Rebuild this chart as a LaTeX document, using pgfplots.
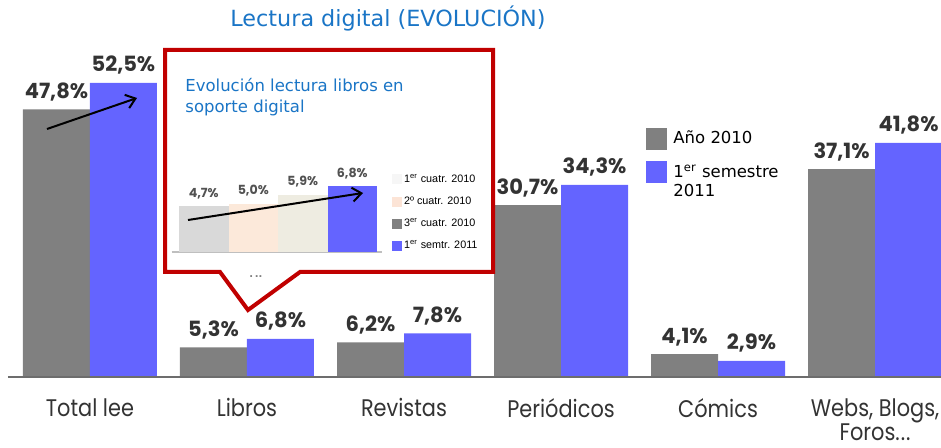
\documentclass[border=0pt]{standalone}
\usepackage{pgfplots}
\pgfplotsset{compat=1.18}
\usetikzlibrary{arrows.meta}
\usepackage{fontspec}
\setmainfont{DejaVu Sans}
\newfontfamily\catfont[FakeStretch=0.87]{Poppins}
\newfontfamily\valfont{Poppins}
\newfontfamily\arialfont{Liberation Sans}
\definecolor{ggray}{HTML}{808080}
\definecolor{bblue}{HTML}{6464FF}
\definecolor{ttl}{HTML}{1A75C6}
\definecolor{cred}{HTML}{C00000}
\definecolor{lab}{HTML}{333333}
\definecolor{inA}{HTML}{D9D9D9}
\definecolor{inB}{HTML}{FCE9DA}
\definecolor{inC}{HTML}{EEECE1}
\definecolor{lgA}{HTML}{F6F6F6}
\definecolor{lgB}{HTML}{FCE4D6}
\newcommand{\dotsx}{.\kern0.5pt.\kern0.5pt.}
\begin{document}
\begin{tikzpicture}
\useasboundingbox (0pt,0pt) rectangle (470.5pt,-224pt);
% ---------------- main chart ----------------
\begin{axis}[
  at={(4pt,-188.5pt)}, anchor=south west, scale only axis,
  width=466.5pt, height=168pt,
  xmin=-0.522, xmax=5.42, ymin=0, ymax=60,
  ybar=0pt, bar width=33.5pt,
  axis line style={draw=none}, ytick=\empty,
  xtick={0,1,2,3,4,5}, major tick length=0pt,
  xticklabels={Total lee, Libros, Revistas, Periódicos, Cómics, {Webs, Blogs,\\Foros\dotsx}},
  xticklabel style={font=\catfont\fontsize{12}{12}\selectfont, text=lab, align=center, anchor=north, inner sep=0pt, yshift=-10.5pt},
  clip=false,
  /pgf/number format/assume math mode=true,
  nodes near coords={\pgfmathprintnumber[fixed,precision=1,fixed zerofill,use comma,assume math mode=true]{\pgfplotspointmeta}\%},
  every node near coord/.append style={font=\valfont\bfseries\fontsize{10.5}{12}\selectfont, text=lab, anchor=base, yshift=5.5pt},
  legend style={at={(axis description cs:0.6774,0.755)}, anchor=north west, draw=none, fill=none,
     font=\fontsize{8.25}{9.5}\selectfont, row sep=5.75pt, column sep=3pt,
     nodes={inner sep=0pt, align=left}},
  legend cell align=left,
]
\addplot[fill=ggray, draw=none,
  legend image code/.code={\fill[ggray] (0pt,-5.5pt) rectangle (10.5pt,5.5pt);}]
  coordinates {(0,47.8) (1,5.3) (2,6.2) (3,30.7) (4,4.1) (5,37.1)};
\addlegendentry{Año 2010}
\addplot[fill=bblue, draw=none,
  legend image code/.code={\fill[bblue] (0pt,-0.5pt) rectangle (10.5pt,10.5pt);}]
  coordinates {(0,52.5) (1,6.8) (2,7.8) (3,34.3) (4,2.9) (5,41.8)};
\addlegendentry{1\textsuperscript{er} semestre\\2011}
\draw[ggray!85!black, line width=1.1pt] (axis cs:-0.522,0) -- (axis cs:5.42,0);
\end{axis}
% ---------------- annotations ----------------
\begin{scope}[x=0.5pt,y=-0.5pt]
\node[anchor=base, text=ttl, font=\fontsize{11.15}{13}\selectfont, inner sep=0pt] at (388,27) {Lectura digital (EVOLUCIÓN)};
\draw[line width=1pt, -{Straight Barb[length=4.5pt,width=7pt]}] (47,129) -- (137,98);
\draw[cred, line width=2pt, fill=white, line join=miter]
  (165,50) -- (493,50) -- (493,272) -- (300,272) -- (248,310) -- (220,272) -- (165,272) -- cycle;
\node[anchor=base west, text=ttl, font=\fontsize{8.25}{10}\selectfont, inner sep=0pt] at (185,92) {Evolución lectura libros en};
\node[anchor=base west, text=ttl, font=\fontsize{8.25}{10}\selectfont, inner sep=0pt] at (185,113) {soporte digital};
\node[text=gray, font=\fontsize{5}{6}\selectfont\bfseries, inner sep=0pt] at (256,277) {.\,..};
\end{scope}
% ---------------- inner chart ----------------
\begin{axis}[
  at={(89.5pt,-126pt)}, anchor=south west, scale only axis,
  width=99pt, height=38.8pt,
  xmin=0.5, xmax=4.5, ymin=0, ymax=8,
  hide axis, clip=false,
  nodes near coords={\pgfmathprintnumber[fixed,precision=1,fixed zerofill,use comma,assume math mode=true]{\pgfplotspointmeta}\%},
  every node near coord/.append style={font=\valfont\bfseries\fontsize{6.3}{7}\selectfont, text=lab!85!white, anchor=base, yshift=4.5pt},
  legend style={at={(axis description cs:1.045,1.057)}, anchor=north west, draw=none, fill=none,
     font=\arialfont\fontsize{5.4}{6}\selectfont, row sep=6.1pt, column sep=1pt,
     nodes={inner sep=0pt, text height=4pt, text depth=1pt}},
  legend cell align=left,
]
\draw[black!25, line width=0.8pt] (axis cs:0.35,0) -- (axis cs:4.6,0);
\addplot[ybar, bar width=24.75pt, bar shift=0pt, fill=inA, draw=none, forget plot] coordinates {(1,4.7)};
\addplot[ybar, bar width=24.75pt, bar shift=0pt, fill=inB, draw=none, forget plot] coordinates {(2,5.0)};
\addplot[ybar, bar width=24.75pt, bar shift=0pt, fill=inC, draw=none, forget plot] coordinates {(3,5.9)};
\addplot[ybar, bar width=24.75pt, bar shift=0pt, fill=bblue, draw=none, forget plot] coordinates {(4,6.8)};
\addlegendimage{legend image code/.code={\fill[lgA] (0pt,-2.25pt) rectangle (4.5pt,2.25pt);}}
\addlegendentry{1\textsuperscript{er} cuatr. 2010}
\addlegendimage{legend image code/.code={\fill[lgB] (0pt,-2.25pt) rectangle (4.5pt,2.25pt);}}
\addlegendentry{2º cuatr. 2010}
\addlegendimage{legend image code/.code={\fill[ggray] (0pt,-2.25pt) rectangle (4.5pt,2.25pt);}}
\addlegendentry{3\textsuperscript{er} cuatr. 2010}
\addlegendimage{legend image code/.code={\fill[bblue] (0pt,-2.25pt) rectangle (4.5pt,2.25pt);}}
\addlegendentry{1\textsuperscript{er} semtr. 2011}
\end{axis}
\begin{scope}[x=0.5pt,y=-0.5pt]
\draw[line width=1pt, -{Straight Barb[length=4.5pt,width=7pt]}] (188,220) -- (363,193);
\end{scope}
\end{tikzpicture}
\end{document}
